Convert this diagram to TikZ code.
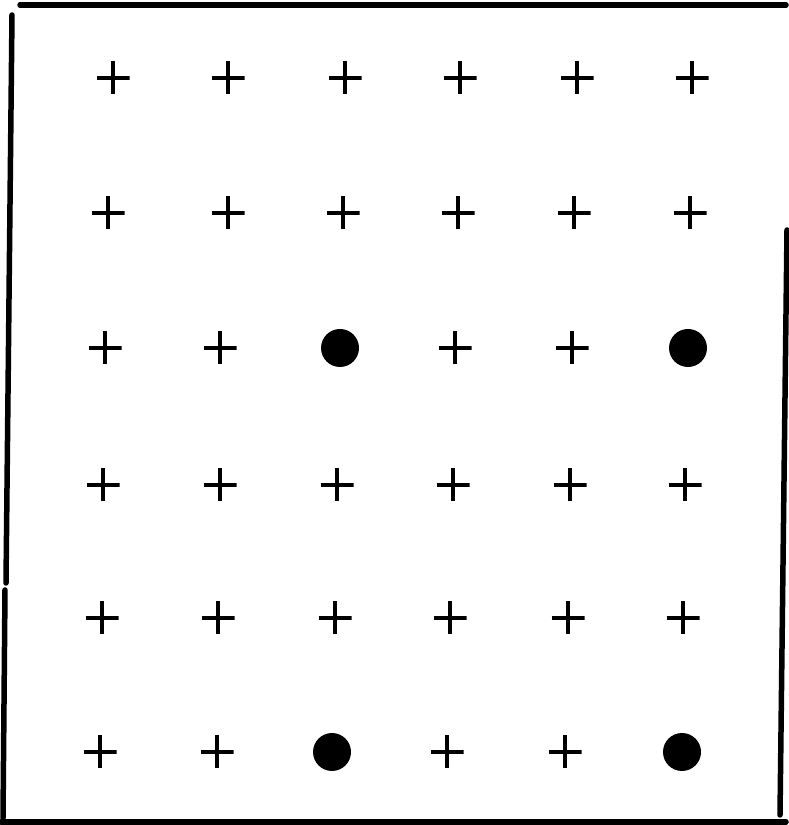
\documentclass[tikz,border=0pt]{standalone}
\begin{document}
\begin{tikzpicture}[x=1pt,y=1pt,
  frameline/.style={line width=5.5pt, line cap=round},
  plusmark/.style={minimum size=33pt, inner sep=0pt, outer sep=0pt,
    path picture={\draw[line width=3.3pt]
      (path picture bounding box.north) -- (path picture bounding box.south)
      (path picture bounding box.west) -- (path picture bounding box.east);}},
  dotmark/.style={circle, fill=black, minimum size=38pt, inner sep=0pt}]
\useasboundingbox (0,0) rectangle (789,825);
% frame
\coordinate (tl) at (20,820);
\coordinate (tr) at (786,820);
\coordinate (la) at (12,810);
\coordinate (lb) at (6,242);
\coordinate (lc) at (5,235);
\coordinate (ld) at (3,7);
\coordinate (ra) at (787,595);
\coordinate (rb) at (780,10);
\coordinate (bl) at (1,3);
\coordinate (br) at (786,3);
\draw[frameline] (tl) -- (tr);
\draw[frameline] (la) -- (lb);
\draw[frameline] (lc) -- (ld);
\draw[frameline] (ra) -- (rb);
\draw[frameline] (bl) -- (br);
% row 1 (y=78)
\node[plusmark] (r1c1) at (113,747) {};
\node[plusmark] (r1c2) at (228,747) {};
\node[plusmark] (r1c3) at (345,747) {};
\node[plusmark] (r1c4) at (460,747) {};
\node[plusmark] (r1c5) at (577,747) {};
\node[plusmark] (r1c6) at (692,747) {};
% row 2 (y=213)
\node[plusmark] (r2c1) at (108,612) {};
\node[plusmark] (r2c2) at (228,612) {};
\node[plusmark] (r2c3) at (343,612) {};
\node[plusmark] (r2c4) at (458,612) {};
\node[plusmark] (r2c5) at (574,612) {};
\node[plusmark] (r2c6) at (690,612) {};
% row 3 (y=348)
\node[plusmark] (r3c1) at (105,477) {};
\node[plusmark] (r3c2) at (220,477) {};
\node[dotmark]  (r3c3) at (340,477) {};
\node[plusmark] (r3c4) at (455,477) {};
\node[plusmark] (r3c5) at (572,477) {};
\node[dotmark]  (r3c6) at (688,477) {};
% row 4 (y=485)
\node[plusmark] (r4c1) at (103,340) {};
\node[plusmark] (r4c2) at (220,340) {};
\node[plusmark] (r4c3) at (337,340) {};
\node[plusmark] (r4c4) at (453,340) {};
\node[plusmark] (r4c5) at (570,340) {};
\node[plusmark] (r4c6) at (685,340) {};
% row 5 (y=618)
\node[plusmark] (r5c1) at (102,207) {};
\node[plusmark] (r5c2) at (218,207) {};
\node[plusmark] (r5c3) at (335,207) {};
\node[plusmark] (r5c4) at (450,207) {};
\node[plusmark] (r5c5) at (568,207) {};
\node[plusmark] (r5c6) at (683,207) {};
% row 6 (y=752)
\node[plusmark] (r6c1) at (100,73) {};
\node[plusmark] (r6c2) at (217,73) {};
\node[dotmark]  (r6c3) at (332,73) {};
\node[plusmark] (r6c4) at (447,73) {};
\node[plusmark] (r6c5) at (565,73) {};
\node[dotmark]  (r6c6) at (682,73) {};
\end{tikzpicture}
\end{document}
